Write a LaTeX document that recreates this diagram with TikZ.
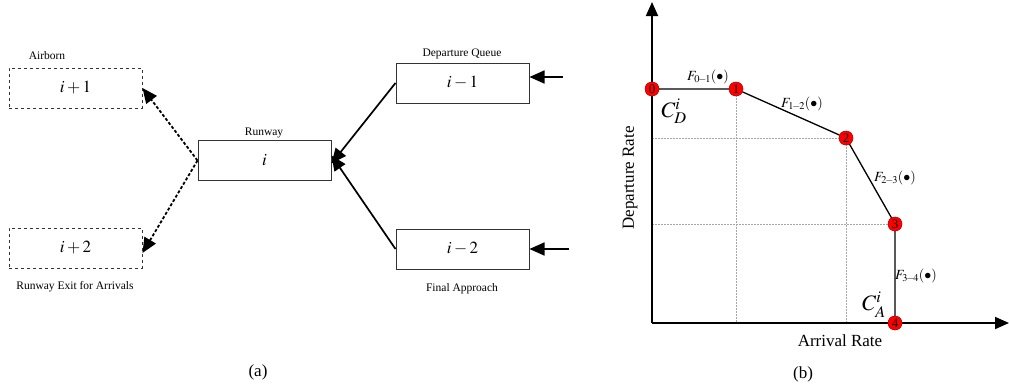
\documentclass[tikz,border=0pt]{standalone}
\usepackage{mathptmx}
\usepackage[no-math]{fontspec}
\setmainfont{Liberation Serif}
\usetikzlibrary{arrows.meta}
\begin{document}
\begin{tikzpicture}[x=1pt,y=-1pt,
  box/.style={draw=black!80,line width=1pt,minimum width=133pt,minimum height=40pt,inner sep=0pt,font=\fontsize{17}{17}\selectfont},
  dbox/.style={box,dashed},
  lbl/.style={font=\fontsize{11.5}{11.5}\selectfont,inner sep=0pt},
  arr/.style={line width=1.7pt,-{Triangle[length=15pt,width=13pt]}},
  darr/.style={line width=1.8pt,dash pattern=on 3pt off 2pt,-{Triangle[length=15pt,width=13pt]}},
  pt/.style={circle,fill=red,draw=red!70!black,line width=0.3pt,minimum size=14pt,inner sep=0pt,font=\fontsize{13}{13}\selectfont},
  grid/.style={draw=black!35,line width=0.5pt,dash pattern=on 1.5pt off 1.5pt},
  curve/.style={line width=1.3pt},
  flbl/.style={font=\fontsize{14}{14}\selectfont,inner sep=0pt}]
\useasboundingbox (0,0) rectangle (1009,391);
% (a)
\node[dbox] (air) at (75.5,88) {$i+1$};
\node[dbox] (exit) at (75.5,248) {$i+2$};
\node[box] (rw) at (264.5,160.5) {$i$};
\node[box] (dq) at (462.5,83) {$i-1$};
\node[box] (fa) at (462.5,249) {$i-2$};
\node[lbl] at (47,56) {Airborn};
\node[lbl] at (75,287) {Runway Exit for Arrivals};
\node[lbl] at (264,133) {Runway};
\node[lbl] at (462,54) {Departure Queue};
\node[lbl] at (462,289) {Final Approach};
\coordinate (in1) at (563,77);
\coordinate (in2) at (569,249);
\draw[arr] (in1) -- (dq.east |- in1);
\draw[arr] (in2) -- (fa.east);
\draw[arr] (dq.west) -- ([yshift=-3pt]rw.east);
\draw[arr] (fa.west) -- ([yshift=5pt]rw.east);
\draw[darr] (rw.west) -- (air.east);
\draw[darr] (rw.west) -- ([yshift=-5pt]exit.east);
\node[font=\fontsize{17}{17}\selectfont] (la) at (258,372) {(a)};
% (b)
\coordinate (O) at (652,323);
\coordinate (ytop) at (652,2);
\coordinate (xend) at (1009,323);
\draw[grid] (736,89) -- (736,323);
\draw[grid] (846,138) -- (846,323);
\draw[grid] (652,138) -- (846,138);
\draw[grid] (652,224) -- (895,224);
\draw[line width=1.8pt,-{Triangle[length=14pt,width=12pt]}] (O) -- (ytop);
\draw[line width=1.8pt,-{Triangle[length=14pt,width=12pt]}] (O) -- (xend);
\node[pt] (p0) at (652,89) {};
\node[pt] (p1) at (736,89) {};
\node[pt] (p2) at (846,138) {};
\node[pt] (p3) at (895,224) {};
\node[pt] (p4) at (895,323) {};
\draw[curve] (p0) -- (p1) -- (p2) -- (p3) -- (p4);
\node[pt] at (p0) {0};
\node[pt] at (p1) {1};
\node[pt] at (p2) {2};
\node[pt] at (p3) {3};
\node[pt] at (p4) {4};
\node[flbl] at (708,77) {$F_{0\!-\!1}(\bullet)$};
\node[flbl] at (802,104) {$F_{1\!-\!2}(\bullet)$};
\node[flbl] at (895,178) {$F_{2\!-\!3}(\bullet)$};
\node[flbl] at (916,276) {$F_{3\!-\!4}(\bullet)$};
\node[font=\fontsize{22}{22}\selectfont,inner sep=0pt] at (674,111) {$C_D^i$};
\node[font=\fontsize{22}{22}\selectfont,inner sep=0pt] at (874,305) {$C_A^i$};
\node[font=\fontsize{17}{17}\selectfont,rotate=90,inner sep=0pt] at (630,178) {Departure Rate};
\node[font=\fontsize{17}{17}\selectfont,inner sep=0pt] at (840,341) {Arrival Rate};
\node[font=\fontsize{17}{17}\selectfont] (lb) at (803,374) {(b)};
\end{tikzpicture}
\end{document}
